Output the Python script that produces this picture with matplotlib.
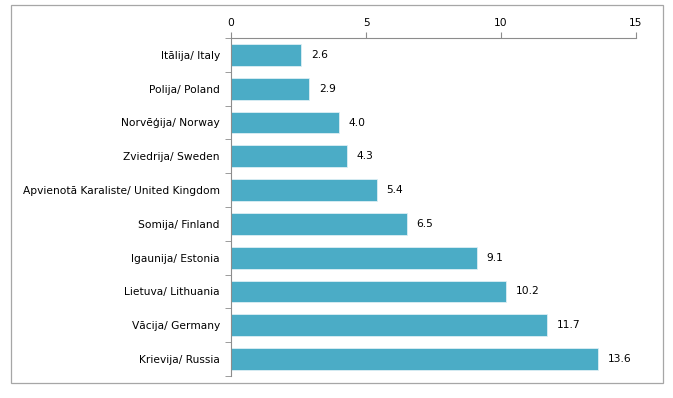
import matplotlib
matplotlib.use("Agg")
import matplotlib.pyplot as plt
from matplotlib.patches import Rectangle

countries = ["Itālija/ Italy", "Polija/ Poland", "Norvēģija/ Norway", "Zviedrija/ Sweden",
             "Apvienotā Karaliste/ United Kingdom", "Somija/ Finland", "Igaunija/ Estonia",
             "Lietuva/ Lithuania", "Vācija/ Germany", "Krievija/ Russia"]
values = [2.6, 2.9, 4.0, 4.3, 5.4, 6.5, 9.1, 10.2, 11.7, 13.6]
xticks = [0, 5, 10, 15]

bar_color = "#4BACC6"
grey = "#8C8C8C"
fs = 7.65

fig = plt.figure(figsize=(6.73, 3.98), dpi=100)
ax = fig.add_axes([231 / 673, 1 - 376 / 398, (636 - 231) / 673, (376 - 38) / 398])

pos = list(range(len(countries)))
ax.barh(pos, values, height=0.65, color=bar_color, edgecolor="#DDEFF4", linewidth=0.6)
ax.set_ylim(len(countries) - 0.5, -0.5)
ax.set_xlim(0, 15)

for p, v in zip(pos, values):
    ax.annotate(f"{v:.1f}", (v, p), xytext=(7, 0), textcoords="offset points",
                va="center", ha="left", fontsize=fs)

ax.xaxis.tick_top()
ax.set_xticks(xticks)
ax.set_xticklabels([str(t) for t in xticks], fontsize=fs)
ax.set_yticks(pos)
ax.set_yticklabels(countries, fontsize=fs)
ax.set_yticks([p + 0.5 for p in [-1] + pos], minor=True)
ax.tick_params(axis="y", which="major", length=0, pad=8)
ax.tick_params(axis="y", which="minor", length=4, color=grey, direction="out")
ax.tick_params(axis="x", length=4, color=grey, direction="out", pad=3)

for s in ["right", "bottom"]:
    ax.spines[s].set_visible(False)
for s in ["left", "top"]:
    ax.spines[s].set_color(grey)
    ax.spines[s].set_linewidth(0.8)

fig.patches.append(Rectangle((11 / 673, 1 - 383 / 398), (663 - 11) / 673, (383 - 5) / 398,
                             transform=fig.transFigure, fill=False, edgecolor="#A6A6A6",
                             linewidth=0.9))

fig.savefig("out.png", dpi=100)
